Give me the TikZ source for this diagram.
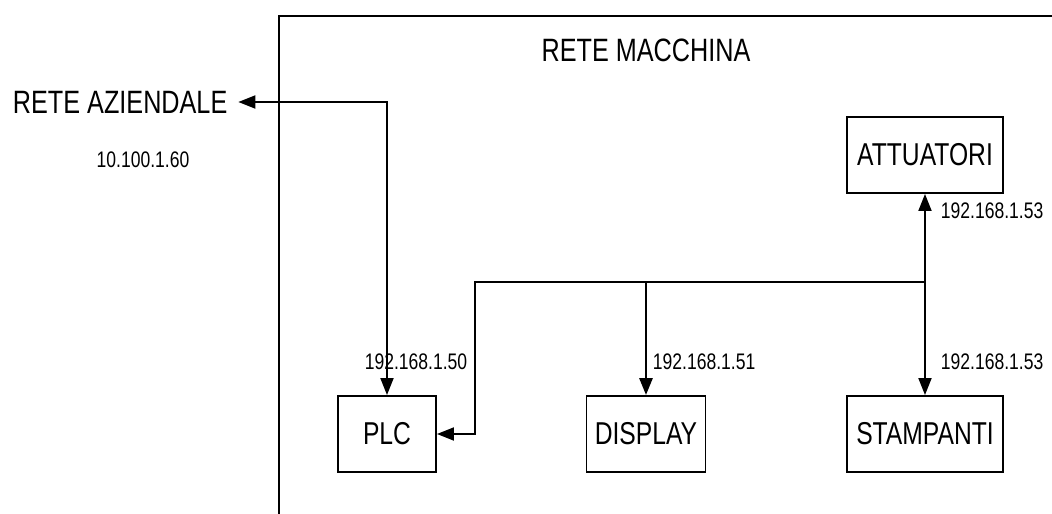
\documentclass[tikz,border=0pt]{standalone}
\usepackage{fontspec}
\setmainfont[FakeStretch=0.78]{Liberation Sans}
\usepackage{tikz}
\usetikzlibrary{arrows.meta, positioning}

\begin{document}
\begin{tikzpicture}[x=0.02cm, y=-0.02cm,
  line width=1.1pt,
  devbox/.style={draw, line width=1.1pt, font=\fontsize{18}{21}\selectfont,
    minimum height=1.52cm, inner sep=0pt},
  bigtxt/.style={font=\fontsize{18.4}{21}\selectfont, inner sep=0pt},
  iptxt/.style={font=\fontsize{12.8}{15}\selectfont, inner sep=0pt},
  link/.style={line width=1.1pt, {Triangle[length=3.4mm,width=2.6mm]}-{Triangle[length=3.4mm,width=2.6mm]}},
  onelink/.style={line width=1.1pt, -{Triangle[length=3.4mm,width=2.6mm]}}]
\useasboundingbox (0,0) rectangle (1052,514);
% machine network frame
\draw[line width=1.3pt] (1060,16) -- (279,16) -- (279,520);
\node[bigtxt] (macc) at (646,50) {RETE MACCHINA};
% company network
\node[bigtxt, anchor=west] (azi) at (12,102) {RETE AZIENDALE};
\node[iptxt] (aziip) at (143,160) {10.100.1.60};
% devices
\node[devbox, minimum width=1.96cm] (plc) at (387,434) {PLC};
\node[devbox, minimum width=2.38cm] (disp) at (646,434) {DISPLAY};
\node[devbox, minimum width=3.12cm] (att) at (925,155) {ATTUATORI};
\node[devbox, minimum width=3.12cm] (stamp) at (925,434) {STAMPANTI};
% bus
\coordinate (busL) at (475,282);
\coordinate (busD) at (646,282);
\coordinate (busR) at (925,282);
\draw[link] ([xshift=0.2cm]azi.east) -| (plc.north);
\draw[onelink] (busR) -- (busL) |- (plc.east);
\draw[onelink, line width=1.6pt] (busD) -- (disp.north);
\draw[link] (att.south) -- (stamp.north);
% addresses
\node[iptxt] (plcip) at (416,362) {192.168.1.50};
\node[iptxt, anchor=west] (dispip) at (652,362) {192.168.1.51};
\node[iptxt, anchor=west] (attip) at (940,211) {192.168.1.53};
\node[iptxt, anchor=west] (stampip) at (940,362) {192.168.1.53};
\end{tikzpicture}
\end{document}
